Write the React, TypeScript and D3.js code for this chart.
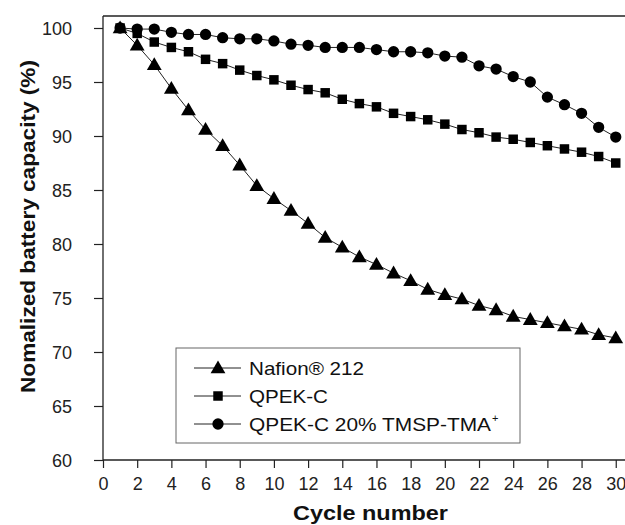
import React, { useEffect, useRef } from 'react';
import * as d3 from 'd3';

const cycles = d3.range(1, 31);

const nafion = [100, 98.4, 96.6, 94.4, 92.4, 90.6, 89.1, 87.3, 85.4, 84.2, 83.1, 81.9, 80.6, 79.7, 78.8,
  78.1, 77.3, 76.6, 75.8, 75.3, 74.9, 74.3, 73.9, 73.3, 73.0, 72.7, 72.4, 72.1, 71.6, 71.3];
const qpek = [100, 99.5, 98.7, 98.2, 97.8, 97.1, 96.7, 96.1, 95.6, 95.2, 94.7, 94.3, 94.0, 93.4, 93.0,
  92.7, 92.1, 91.8, 91.5, 91.1, 90.6, 90.3, 89.9, 89.7, 89.4, 89.1, 88.8, 88.5, 88.1, 87.5];
const qpekTma = [100, 99.9, 99.9, 99.6, 99.4, 99.4, 99.1, 99.0, 99.0, 98.8, 98.5, 98.4, 98.2, 98.2, 98.2,
  98.0, 97.8, 97.8, 97.7, 97.4, 97.3, 96.5, 96.2, 95.5, 95.0, 93.6, 92.9, 92.1, 90.8, 89.9];

const seriesNames = ['Nafion\u00ae 212', 'QPEK-C', 'QPEK-C 20% TMSP-TMA'];
const seriesSymbols = [d3.symbolTriangle, d3.symbolSquare, d3.symbolCircle];
const seriesSizes = [95, 90, 100];

const xTicks = d3.range(0, 31, 2);
const yTicks = d3.range(60, 101, 5);

export default function App() {
  const svgRef = useRef<SVGSVGElement>(null);

  useEffect(() => {
    const svg = d3.select(svgRef.current);
    svg.selectAll('*').remove();
    const font = 'Liberation Sans, Arial, sans-serif';

    const left = 103, top = 16, bottom = 460;
    const x = d3.scaleLinear().domain([0, 30.6]).range([left, 626]);
    const y = d3.scaleLinear().domain([60, 100]).range([bottom, 28]);

    // frame: top and left lines
    svg.append('line').attr('x1', left).attr('x2', 625).attr('y1', top).attr('y2', top)
      .attr('stroke', '#222').attr('stroke-width', 1.3);
    svg.append('line').attr('x1', left).attr('x2', left).attr('y1', top).attr('y2', bottom)
      .attr('stroke', '#222').attr('stroke-width', 1.3);

    // x axis
    const xAxis = svg.append('g').attr('transform', `translate(0,${bottom})`);
    xAxis.call(d3.axisBottom(x).tickValues(d3.range(1, 31, 2)).tickSize(4).tickFormat(() => ''));
    xAxis.call(d3.axisBottom(x).tickValues(xTicks).tickSize(8).tickPadding(5).tickFormat(d3.format('d')));
    xAxis.selectAll('.domain').remove();
    svg.append('line').attr('x1', left).attr('x2', 625).attr('y1', bottom).attr('y2', bottom)
      .attr('stroke', '#222').attr('stroke-width', 1.3);

    // y axis
    const yAxis = svg.append('g').attr('transform', `translate(${left},0)`);
    yAxis.call(d3.axisLeft(y).tickValues(d3.range(62.5, 100, 5)).tickSize(5).tickFormat(() => ''));
    yAxis.call(d3.axisLeft(y).tickValues(yTicks).tickSize(9).tickPadding(22).tickFormat(d3.format('d')));
    yAxis.selectAll('.domain').remove();

    svg.selectAll('.tick line').attr('stroke', '#222').attr('stroke-width', 1.2);
    svg.selectAll('.tick text').attr('font-family', font).attr('font-size', 18).attr('fill', '#222');
    yAxis.selectAll('.tick text').attr('text-anchor', 'end').attr('dy', '0.36em').attr('x', -31);
    xAxis.selectAll('.tick text').attr('dy', 0).attr('y', 30);

    // titles
    svg.append('text').attr('x', 293).attr('y', 520)
      .attr('font-family', font).attr('font-weight', 'bold').attr('font-size', 19.5)
      .attr('textLength', 155).attr('lengthAdjust', 'spacingAndGlyphs').attr('fill', '#111')
      .text('Cycle number');
    svg.append('text').attr('transform', 'translate(35,393) rotate(-90)')
      .attr('font-family', font).attr('font-weight', 'bold').attr('font-size', 19.5)
      .attr('textLength', 333).attr('lengthAdjust', 'spacingAndGlyphs').attr('fill', '#111')
      .text('Nomalized battery capacity (%)');

    // series
    const allSeries = [nafion, qpek, qpekTma];
    const line = d3.line<number>().x((_, i) => x(cycles[i])).y((d) => y(d));
    allSeries.forEach((vals, s) => {
      svg.append('path').attr('d', line(vals)).attr('fill', 'none')
        .attr('stroke', '#222').attr('stroke-width', 1);
      const sym = d3.symbol().type(seriesSymbols[s]).size(seriesSizes[s]);
      svg.append('g').selectAll('path').data(vals).enter().append('path')
        .attr('d', sym)
        .attr('transform', (d, i) => `translate(${x(cycles[i])},${y(d) + (s === 0 ? 1 : 0)})`)
        .attr('fill', '#000');
    });

    // legend
    const lg = svg.append('g');
    lg.append('rect').attr('x', 176).attr('y', 348).attr('width', 344).attr('height', 95)
      .attr('fill', '#fff').attr('stroke', '#666').attr('stroke-width', 1);
    const rowsY = [368, 396, 424];
    const textWidths = [115, 79, 242];
    seriesNames.forEach((name, s) => {
      const ry = rowsY[s];
      lg.append('line').attr('x1', 194).attr('x2', 241).attr('y1', ry).attr('y2', ry)
        .attr('stroke', '#222').attr('stroke-width', 1);
      lg.append('path').attr('d', d3.symbol().type(seriesSymbols[s]).size(seriesSizes[s])())
        .attr('transform', `translate(218,${ry + (s === 0 ? 1 : 0)})`).attr('fill', '#000');
      lg.append('text').attr('x', 249).attr('y', ry + 7)
        .attr('font-family', font).attr('font-size', 18.5)
        .attr('textLength', textWidths[s]).attr('lengthAdjust', 'spacingAndGlyphs')
        .attr('fill', '#111').text(name);
      if (s === 2) {
        lg.append('text').attr('x', 492).attr('y', ry - 2)
          .attr('font-family', font).attr('font-size', 11).attr('fill', '#111').text('+');
      }
    });
  }, []);

  return (
    <svg ref={svgRef} width={625} height={525}
      style={{ position: 'absolute', left: 0, top: 0, background: '#fff' }} />
  );
}
